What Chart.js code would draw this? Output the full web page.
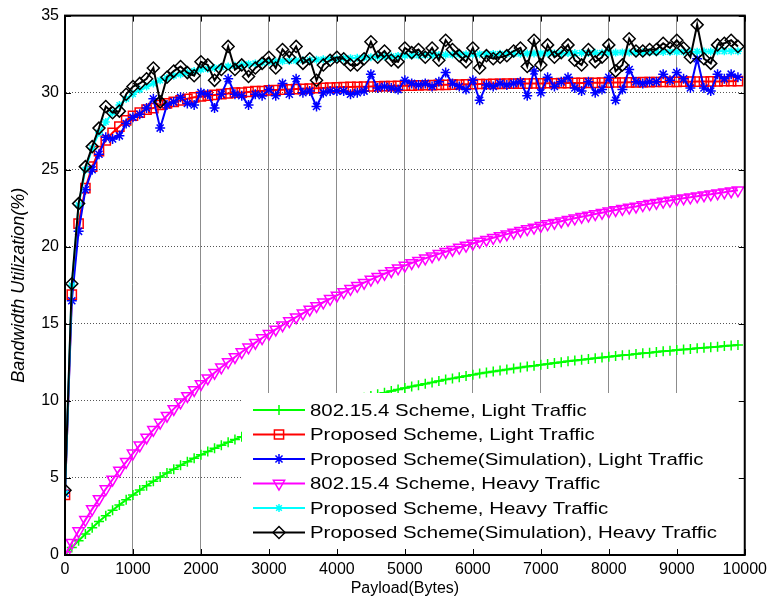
<!DOCTYPE html>
<html>
<head>
<meta charset="utf-8">
<title>Bandwidth Utilization</title>
<script src="https://cdn.jsdelivr.net/npm/chart.js@4.4.1/dist/chart.umd.min.js"></script>
<style>
  html, body { margin: 0; padding: 0; background: #fff; }
  #chart { display: block; }
</style>
</head>
<body>
<canvas id="chart" width="772" height="603"></canvas>
<script>
// payload sizes (bytes), one point every 100 bytes
const payload = [
  0, 100, 200, 300, 400, 500, 600, 700, 800, 900,
  1000, 1100, 1200, 1300, 1400, 1500, 1600, 1700, 1800, 1900,
  2000, 2100, 2200, 2300, 2400, 2500, 2600, 2700, 2800, 2900,
  3000, 3100, 3200, 3300, 3400, 3500, 3600, 3700, 3800, 3900,
  4000, 4100, 4200, 4300, 4400, 4500, 4600, 4700, 4800, 4900,
  5000, 5100, 5200, 5300, 5400, 5500, 5600, 5700, 5800, 5900,
  6000, 6100, 6200, 6300, 6400, 6500, 6600, 6700, 6800, 6900,
  7000, 7100, 7200, 7300, 7400, 7500, 7600, 7700, 7800, 7900,
  8000, 8100, 8200, 8300, 8400, 8500, 8600, 8700, 8800, 8900,
  9000, 9100, 9200, 9300, 9400, 9500, 9600, 9700, 9800, 9900
];

const stdLight = [
  0, 0.48, 0.93, 1.36, 1.77, 2.17, 2.54, 2.90, 3.25, 3.58,
  3.90, 4.21, 4.50, 4.78, 5.06, 5.32, 5.57, 5.82, 6.05, 6.28,
  6.50, 6.71, 6.92, 7.12, 7.31, 7.50, 7.68, 7.86, 8.03, 8.20,
  8.36, 8.51, 8.67, 8.82, 8.96, 9.10, 9.24, 9.37, 9.50, 9.63,
  9.75, 9.87, 9.99, 10.10, 10.21, 10.32, 10.43, 10.53, 10.64, 10.74,
  10.83, 10.93, 11.02, 11.11, 11.20, 11.29, 11.38, 11.46, 11.54, 11.62,
  11.70, 11.77, 11.84, 11.91, 11.97, 12.04, 12.10, 12.16, 12.23, 12.28,
  12.34, 12.40, 12.46, 12.51, 12.57, 12.62, 12.67, 12.72, 12.77, 12.82,
  12.87, 12.91, 12.96, 13.00, 13.05, 13.09, 13.13, 13.18, 13.22, 13.25,
  13.30, 13.34, 13.37, 13.42, 13.45, 13.48, 13.52, 13.56, 13.59, 13.63
];

const propLight = [
  3.9, 16.9, 21.5, 23.8, 25.2, 26.2, 26.9, 27.4, 27.8, 28.2,
  28.5, 28.7, 28.9, 29.0, 29.2, 29.3, 29.4, 29.5, 29.6, 29.7,
  29.75, 29.8, 29.85, 29.9, 29.95, 30.0, 30.0, 30.05, 30.1, 30.1,
  30.15, 30.17, 30.19, 30.21, 30.23, 30.25, 30.27, 30.29, 30.31, 30.33,
  30.35, 30.36, 30.37, 30.38, 30.39, 30.4, 30.41, 30.42, 30.43, 30.44,
  30.45, 30.46, 30.47, 30.48, 30.49, 30.5, 30.51, 30.52, 30.53, 30.54,
  30.55, 30.56, 30.56, 30.57, 30.57, 30.58, 30.58, 30.59, 30.59, 30.6,
  30.6, 30.61, 30.61, 30.62, 30.62, 30.63, 30.63, 30.64, 30.64, 30.65,
  30.65, 30.66, 30.66, 30.67, 30.67, 30.68, 30.68, 30.69, 30.69, 30.7,
  30.7, 30.71, 30.71, 30.72, 30.72, 30.73, 30.73, 30.74, 30.74, 30.75
];

const simLight = [
  4.0, 16.5, 21.0, 23.7, 25.0, 26.0, 27.1, 27.0, 27.2, 28.0,
  28.4, 28.6, 29.0, 29.6, 27.7, 29.2, 29.4, 29.7, 29.3, 29.2,
  30.0, 29.9, 29.0, 29.9, 30.9, 29.9, 29.8, 29.2, 29.9, 29.8,
  30.2, 29.8, 30.6, 29.9, 30.9, 30.0, 30.1, 29.1, 30.0, 30.1,
  30.1, 30.1, 29.9, 30.0, 30.1, 31.2, 30.3, 30.4, 30.3, 30.2,
  30.8, 30.6, 30.5, 30.6, 30.4, 30.7, 31.3, 30.6, 30.4, 30.2,
  30.8, 29.5, 30.5, 30.4, 30.6, 30.5, 30.6, 30.7, 29.8, 31.4,
  30.0, 31.0, 30.4, 30.7, 31.0, 30.3, 30.1, 30.7, 30.0, 30.2,
  31.0, 29.5, 30.2, 31.5, 30.7, 30.6, 30.7, 30.7, 31.2, 30.8,
  31.3, 30.9, 30.3, 32.2, 30.3, 30.1, 31.2, 30.9, 31.2, 31.0
];

const stdHeavy = [
  0, 0.80, 1.55, 2.28, 2.98, 3.64, 4.28, 4.90, 5.49, 6.05,
  6.60, 7.12, 7.63, 8.12, 8.59, 9.04, 9.48, 9.91, 10.32, 10.71,
  11.10, 11.47, 11.83, 12.18, 12.52, 12.85, 13.17, 13.48, 13.78, 14.08,
  14.36, 14.64, 14.91, 15.18, 15.43, 15.68, 15.93, 16.16, 16.40, 16.62,
  16.84, 17.06, 17.27, 17.47, 17.67, 17.87, 18.06, 18.25, 18.43, 18.61,
  18.78, 18.95, 19.10, 19.25, 19.39, 19.54, 19.68, 19.81, 19.95, 20.08,
  20.21, 20.34, 20.46, 20.58, 20.70, 20.82, 20.93, 21.04, 21.15, 21.25,
  21.36, 21.47, 21.56, 21.66, 21.76, 21.85, 21.95, 22.03, 22.13, 22.21,
  22.30, 22.39, 22.46, 22.55, 22.62, 22.71, 22.79, 22.86, 22.93, 23.00,
  23.08, 23.15, 23.21, 23.28, 23.35, 23.41, 23.48, 23.54, 23.61, 23.66
];

const propHeavy = [
  4.0, 17.5, 22.7, 25.0, 26.4, 27.4, 28.1, 28.7, 29.2, 29.6,
  29.9, 30.2, 30.4, 30.6, 30.8, 30.95, 31.1, 31.2, 31.3, 31.4,
  31.5, 31.55, 31.6, 31.65, 31.7, 31.75, 31.8, 31.85, 31.9, 31.95,
  32.0, 32.02, 32.04, 32.06, 32.08, 32.1, 32.12, 32.14, 32.16, 32.18,
  32.2, 32.22, 32.24, 32.26, 32.28, 32.3, 32.32, 32.34, 32.36, 32.38,
  32.4, 32.41, 32.42, 32.43, 32.44, 32.45, 32.46, 32.47, 32.48, 32.49,
  32.5, 32.5, 32.51, 32.51, 32.52, 32.52, 32.53, 32.53, 32.54, 32.54,
  32.55, 32.55, 32.56, 32.56, 32.57, 32.57, 32.58, 32.58, 32.59, 32.59,
  32.6, 32.6, 32.61, 32.61, 32.62, 32.62, 32.63, 32.63, 32.64, 32.64,
  32.65, 32.65, 32.66, 32.66, 32.67, 32.67, 32.68, 32.68, 32.69, 32.69
];

const simHeavy = [
  4.2, 17.6, 22.8, 25.2, 26.5, 27.7, 29.1, 28.7, 28.8, 29.9,
  30.4, 30.6, 30.9, 31.6, 29.4, 31.0, 31.4, 31.7, 31.3, 31.1,
  32.0, 31.8, 30.8, 31.5, 33.0, 31.5, 31.8, 31.05, 31.6, 31.9,
  32.3, 31.6, 32.8, 32.3, 33.0, 31.9, 32.2, 30.8, 31.8, 32.1,
  32.3, 32.2, 31.8, 31.8, 32.2, 33.3, 32.3, 32.7, 32.1, 32.0,
  32.9, 32.6, 32.8, 32.3, 32.9, 32.1, 33.4, 32.8, 32.4, 32.0,
  32.9, 31.6, 32.4, 32.2, 32.3, 32.4, 32.7, 32.9, 31.7, 33.4,
  31.8, 33.1, 32.3, 32.6, 33.1, 32.1, 31.8, 32.8, 32.0, 32.3,
  33.1, 31.4, 31.8, 33.5, 32.7, 32.7, 32.8, 32.8, 33.2, 32.9,
  33.4, 32.9, 32.3, 34.4, 32.2, 31.9, 33.1, 33.2, 33.4, 33.0
];

const seriesNames = [
  "802.15.4 Scheme, Light Traffic",
  "Proposed Scheme, Light Traffic",
  "Proposed Scheme(Simulation), Light Traffic",
  "802.15.4 Scheme, Heavy Traffic",
  "Proposed Scheme, Heavy Traffic",
  "Proposed Scheme(Simulation), Heavy Traffic"
];

const FONT = "'Liberation Sans', Arial, sans-serif";

const makePoints = (values) => payload.map((x, i) => ({ x: x, y: values[i] }));

const line = (label, values, color, style, radius, rotation, order) => ({
  label: label,
  data: makePoints(values),
  borderColor: color,
  backgroundColor: color,
  borderWidth: 2,
  pointStyle: style,
  pointRadius: radius,
  pointRotation: rotation,
  pointBorderColor: color,
  pointBackgroundColor: "rgba(0,0,0,0)",
  pointBorderWidth: 1.5,
  order: order
});

const datasets = [
  line(seriesNames[0], stdLight, "#00ff00", "cross", 5, 0, 5),
  line(seriesNames[1], propLight, "#ff0000", "rect", 6.5, 0, 4),
  line(seriesNames[2], simLight, "#0000ff", "star", 5, 0, 3),
  line(seriesNames[3], stdHeavy, "#ff00ff", "triangle", 6.5, 180, 2),
  line(seriesNames[4], propHeavy, "#00ffff", "star", 4, 0, 1),
  line(seriesNames[5], simHeavy, "#000000", "rectRot", 6, 0, 0)
];

// legend inside the plot, then the box and the inward ticks
const framePlugin = {
  id: "frame",
  afterDatasetsDraw(chart) {
    const ctx = chart.ctx;
    const a = chart.chartArea;
    const xs = chart.scales.x;
    const ys = chart.scales.y;
    ctx.save();

    // legend
    const lx = a.left + 177;
    const ly = a.bottom - 162;
    ctx.fillStyle = "#fff";
    ctx.fillRect(lx, ly, a.right - lx, a.bottom - ly);
    ctx.font = "17px " + FONT;
    ctx.textBaseline = "middle";
    ctx.textAlign = "left";
    datasets.forEach((ds, i) => {
      const y = ly + 17 + i * 24.5;
      ctx.strokeStyle = ds.borderColor;
      ctx.lineWidth = 2;
      ctx.beginPath();
      ctx.moveTo(lx + 11, y);
      ctx.lineTo(lx + 63, y);
      ctx.stroke();
      ctx.lineWidth = ds.pointBorderWidth;
      ctx.fillStyle = "rgba(0,0,0,0)";
      Chart.helpers.drawPoint(ctx, {
        pointStyle: ds.pointStyle,
        rotation: ds.pointRotation,
        radius: ds.pointRadius,
        borderWidth: ds.pointBorderWidth
      }, lx + 37, y);
      // the source legend text is a little wider than the font
      ctx.fillStyle = "#000";
      ctx.save();
      ctx.translate(lx + 68, y + 1);
      ctx.scale(1.2, 1);
      ctx.fillText(ds.label, 0, 0);
      ctx.restore();
    });

    // box
    ctx.strokeStyle = "#000";
    ctx.lineWidth = 2;
    ctx.strokeRect(a.left, a.top, a.right - a.left, a.bottom - a.top);

    // inward tick marks
    ctx.lineWidth = 1;
    ctx.beginPath();
    xs.ticks.forEach((t) => {
      const px = Math.round(xs.getPixelForValue(t.value)) + 0.5;
      ctx.moveTo(px, a.bottom);
      ctx.lineTo(px, a.bottom - 6);
      ctx.moveTo(px, a.top);
      ctx.lineTo(px, a.top + 6);
    });
    ys.ticks.forEach((t) => {
      const py = Math.round(ys.getPixelForValue(t.value)) + 0.5;
      ctx.moveTo(a.left, py);
      ctx.lineTo(a.left + 6, py);
      ctx.moveTo(a.right, py);
      ctx.lineTo(a.right - 6, py);
    });
    ctx.stroke();
    ctx.restore();
  }
};

const chart = new Chart(document.getElementById("chart"), {
  type: "line",
  data: { datasets: datasets },
  plugins: [framePlugin],
  options: {
    responsive: false,
    animation: false,
    devicePixelRatio: 1,
    layout: { padding: { top: 10, right: 26, left: 0, bottom: 0 } },
    elements: { line: { tension: 0 } },
    plugins: {
      legend: { display: false },
      tooltip: { enabled: false }
    },
    scales: {
      x: {
        type: "linear",
        min: 0,
        max: 10000,
        afterFit: (s) => { s.height = 48; },
        ticks: {
          stepSize: 1000,
          color: "#000",
          padding: 5,
          maxRotation: 0,
          callback: (v) => String(v),
          font: { family: FONT, size: 16 }
        },
        grid: { color: "#8c8c8c", lineWidth: 1, drawTicks: false },
        border: { display: true, color: "#000", width: 2 },
        title: {
          display: true,
          text: "Payload(Bytes)",
          color: "#000",
          padding: { top: 0, bottom: 5 },
          font: { family: FONT, size: 16 }
        }
      },
      y: {
        min: 0,
        max: 35,
        afterFit: (s) => { s.width = 65; },
        ticks: {
          stepSize: 5,
          color: "#000",
          padding: 6,
          callback: (v) => String(v),
          font: { family: FONT, size: 16 }
        },
        grid: { color: "#555555", lineWidth: 1, drawTicks: false },
        border: { display: true, color: "#000", width: 2, dash: [1, 2] },
        title: {
          display: true,
          text: "Bandwidth Utilization(%)",
          color: "#000",
          padding: { top: 8, bottom: 0 },
          font: { family: FONT, size: 18, style: "italic" }
        }
      }
    }
  }
});
</script>
</body>
</html>
